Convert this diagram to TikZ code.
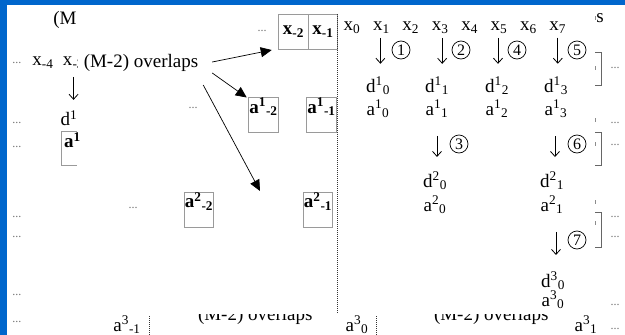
\documentclass[tikz,border=0pt]{standalone}
\usepackage{fontspec}
\setmainfont{Liberation Serif}
\usetikzlibrary{positioning, arrows.meta}
\definecolor{slideblue}{HTML}{0066CC}
\definecolor{cellrule}{HTML}{9A9A9A}
\definecolor{dotgray}{HTML}{707070}

\begin{document}
\begin{tikzpicture}[
  x=1pt, y=-1pt,
  every node/.style={inner sep=0pt, outer sep=0pt},
  lbl/.style={font=\fontsize{19}{22}\selectfont},
  dots/.style={font=\fontsize{12}{14}\selectfont, text=dotgray},
  cellbox/.style={
    draw=cellrule, line width=0.8pt,
    minimum width=29.5pt, minimum height=35pt,
    font=\fontsize{19}{22}\selectfont\bfseries
  },
  coefbox/.style={cellbox, text height=8pt, text depth=12pt},
  stage/.style={circle, draw, line width=0.7pt, minimum size=18pt,
    font=\fontsize{16}{18}\selectfont},
  down/.style={-{Straight Barb[length=5pt, width=9pt]}, line width=0.8pt},
  overlaparrow/.style={-{Triangle[length=11pt, width=10pt]}, line width=0.7pt},
  seam/.style={draw=black!80, line width=0.8pt, dash pattern=on 1pt off 1pt},
  bracket/.style={draw=black!60, line width=0.8pt},
  tick/.style={draw=black!45, line width=0.8pt}
]
\useasboundingbox (0,0) rectangle (625,335);

% --- slide frame (blue strips at top and left)
\fill[slideblue] (0,0) rectangle (625,5);
\fill[slideblue] (0,0) rectangle (7,335);

% =============================================================================
% Left half: previous signal, overlap boxes
% =============================================================================
\node[lbl] (mtop) at (65,20) {(M};

\node[lbl] (xm4) at (43,63) {x\textsubscript{-4}};
\node[lbl, anchor=west] (xm3) at (63,63) {x\textsubscript{-3}};
\node[lbl, fill=white, inner xsep=6pt, inner ysep=2pt] (ovl) at (141,63) {(M-2) overlaps};

\node[lbl] (dm3) at (69,118) {d\textsuperscript{1}};
\node[lbl, font=\fontsize{19}{22}\selectfont\bfseries, anchor=west] (am3) at (64,140) {a\textsuperscript{1}};
\draw[draw=cellrule, line width=0.8pt] (77,131) -| (61,165) -- (77,165);
\draw[down, shorten <=8pt] (xm3.south) -- ++(0,31);

% --- input cells
\node[dots] (xdots) at (262,31) {...};
\node[cellbox] (xb2) at (293.5,31.5) {x\textsubscript{-2}};
\node[cellbox, anchor=west] (xb1) at (xb2.east) {x\textsubscript{-1}};

% --- level 1 and 2 cells
\node[coefbox] (a1m2) at (263.5,115) {a\textsuperscript{1}\textsubscript{-2}};
\node[coefbox] (a1m1) at (321.5,115) {a\textsuperscript{1}\textsubscript{-1}};
\node[coefbox] (a2m2) at (199,209.5) {a\textsuperscript{2}\textsubscript{-2}};
\node[coefbox] (a2m1) at (318,209.5) {a\textsuperscript{2}\textsubscript{-1}};
\node[dots] (mdots1) at (193,108) {...};
\node[dots] (mdots2) at (133,208) {...};
\coordinate (a2gap) at (260,191);

\draw[overlaparrow] ([xshift=8pt, yshift=1pt]ovl.east) -- ([xshift=-7pt, yshift=-1pt]xb2.south west);
\draw[overlaparrow] ([xshift=8pt, yshift=-10pt]ovl.east) -- ([xshift=-2pt]a1m2.north west);
\draw[overlaparrow] ([xshift=-1pt, yshift=-22pt]ovl.east) -- (a2gap);

% --- block seam
\draw[seam] (xb1.north east) -- ++(0,300);

% =============================================================================
% Right half: lifting steps
% =============================================================================
\foreach \i in {0,...,7}
  \node[lbl] (x\i) at (352+29.4*\i, 28) {x\textsubscript{\i}};

\node[lbl] (d10) at (378,86) {d\textsuperscript{1}\textsubscript{0}};
\node[lbl] (d11) at (437,86) {d\textsuperscript{1}\textsubscript{1}};
\node[lbl] (d12) at (497,86) {d\textsuperscript{1}\textsubscript{2}};
\node[lbl] (d13) at (556,86) {d\textsuperscript{1}\textsubscript{3}};
\node[lbl] (a10) at (378,109) {a\textsuperscript{1}\textsubscript{0}};
\node[lbl] (a11) at (437,109) {a\textsuperscript{1}\textsubscript{1}};
\node[lbl] (a12) at (497,109) {a\textsuperscript{1}\textsubscript{2}};
\node[lbl] (a13) at (556,109) {a\textsuperscript{1}\textsubscript{3}};

\node[lbl] (d20) at (435,181) {d\textsuperscript{2}\textsubscript{0}};
\node[lbl] (a20) at (435,205) {a\textsuperscript{2}\textsubscript{0}};
\node[lbl] (d21) at (552,181) {d\textsuperscript{2}\textsubscript{1}};
\node[lbl] (a21) at (552,205) {a\textsuperscript{2}\textsubscript{1}};

\node[lbl] (d30) at (553,281) {d\textsuperscript{3}\textsubscript{0}};
\node[lbl] (a30) at (553,300) {a\textsuperscript{3}\textsubscript{0}};

% --- step arrows with circled order numbers
\draw[down] ([xshift=-1pt, yshift=-4pt]x1.south) -- ++(0,26);
\draw[down] ([xshift=2pt, yshift=-4pt]x3.south) -- ++(0,26);
\draw[down] ([xshift=-1pt, yshift=-4pt]x5.south) -- ++(0,26);
\draw[down] ([yshift=-4pt]x7.south) -- ++(0,26);
\node[stage] (c1) at (401,50) {1};
\node[stage] (c2) at (461,50) {2};
\node[stage] (c4) at (517,50) {4};
\node[stage] (c5) at (577,50) {5};

\draw[down] ([yshift=-18pt]a11.south) -- ++(0,21);
\draw[down] ([xshift=-1pt, yshift=-18pt]a13.south) -- ++(0,21);
\node[stage] (c3) at (459,144) {3};
\node[stage] (c6) at (577,144) {6};

\draw[down] ([xshift=4pt, yshift=-18pt]a21.south) -- ++(0,23);
\node[stage] (c7) at (577,240) {7};

% --- brackets and small marks at the right edge
\node[lbl] (stop) at (600,18) {s};
\draw[bracket] (595,52) -| (601,85) -- (595,85);
\draw[bracket] (595,132) -| (601,165) -- (595,165);
\draw[bracket] (595,212) -| (601,247) -- (595,247);
\foreach \ty in {16,66,118,142,200,221}
  \draw[tick] (595,\ty) -- ++(0,4);

% =============================================================================
% Bottom row (next block, clipped)
% =============================================================================
\node[lbl] (am31) at (127,325) {a\textsuperscript{3}\textsubscript{-1}};
\node[lbl] (a30b) at (357,325) {a\textsuperscript{3}\textsubscript{0}};
\node[lbl] (a31b) at (586,325) {a\textsuperscript{3}\textsubscript{1}};
\begin{scope}
  \clip (180,314) rectangle (560,335);
  \node[lbl, anchor=base west] (ovlb1) at (198,320) {(M-2) overlaps};
  \node[lbl, anchor=base west] (ovlb2) at (434,320) {(M-2) overlaps};
\end{scope}
\draw[seam] (149,316) -- (149,335);
\draw[seam] (376,316) -- (376,335);

% --- continuation dots at both edges
\foreach \dy in {63,123,147,217,237,295,322}
  \node[dots] at (17,\dy) {...};
\foreach \dy in {68,123,145,217,237,305,329}
  \node[dots] at (615,\dy) {...};

\end{tikzpicture}
\end{document}
